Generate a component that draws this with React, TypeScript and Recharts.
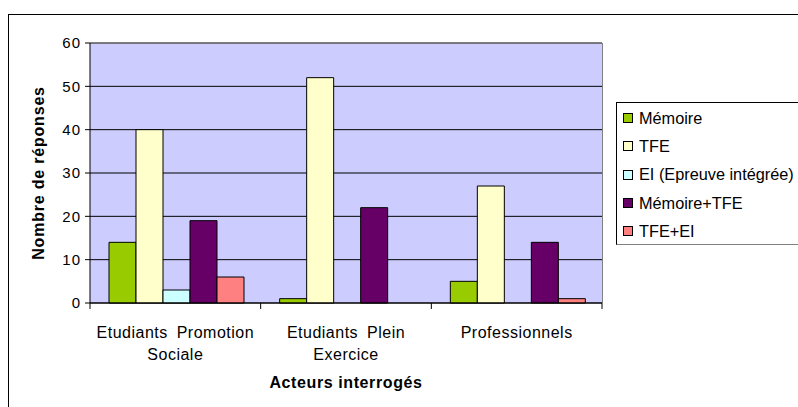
import React from 'react';
import {
  BarChart, Bar, XAxis, YAxis, CartesianGrid, ReferenceLine
} from 'recharts';

const categories = ['Etudiants Promotion Sociale', 'Etudiants Plein Exercice', 'Professionnels'];
const memoire = [14, 1, 5];
const tfe = [40, 52, 27];
const ei = [3, 0, 0];
const memoireTfe = [19, 22, 14];
const tfeEi = [6, 0, 1];
const yTicks = [0, 10, 20, 30, 40, 50, 60];

const SERIES = [
  { key: 'memoire', name: 'Mémoire', color: '#99CC00', values: memoire },
  { key: 'tfe', name: 'TFE', color: '#FFFFCC', values: tfe },
  { key: 'ei', name: 'EI (Epreuve intégrée)', color: '#CCFFFF', values: ei },
  { key: 'memoireTfe', name: 'Mémoire+TFE', color: '#660066', values: memoireTfe },
  { key: 'tfeEi', name: 'TFE+EI', color: '#FF8080', values: tfeEi },
];

const data = categories.map((cat, i) => {
  const row: Record<string, any> = { name: cat };
  SERIES.forEach(s => { row[s.key] = s.values[i]; });
  return row;
});

const FONT = 'Arial, "Liberation Sans", sans-serif';
const PLOT_LEFT = 90;
const PLOT_RIGHT = 602;
const BAND = (PLOT_RIGHT - PLOT_LEFT) / categories.length;

// split long category names onto two lines like Excel does
const CategoryTick = (props: any) => {
  const { x, y, payload, index } = props;
  const words = String(payload.value).split(' ');
  const lines = words.length > 2
    ? [words.slice(0, 2).join(' '), words.slice(2).join(' ')]
    : [words.join(' ')];
  return (
    <g>
      <line x1={x - BAND / 2} y1={y - 8} x2={x - BAND / 2} y2={y - 2} stroke="#000" />
      {index === categories.length - 1 && (
        <line x1={x + BAND / 2} y1={y - 8} x2={x + BAND / 2} y2={y - 2} stroke="#000" />
      )}
      {lines.map((l, i) => (
        <text key={i} x={x} y={y + 27 + i * 22} textAnchor="middle"
          fontFamily={FONT} fontSize={16} fill="#000" wordSpacing={4} letterSpacing={0.5}>
          {l}
        </text>
      ))}
    </g>
  );
};

const LegendBox = () => (
  <div style={{
    position: 'absolute', left: 616, top: 102,
    border: '1px solid #000', borderBottomColor: '#808080', background: '#fff',
    width: 200, height: 143, boxSizing: 'border-box', paddingTop: 1, fontFamily: FONT,
  }}>
    {SERIES.map(s => (
      <div key={s.key} style={{ display: 'flex', alignItems: 'center', height: 28.3, paddingLeft: 6 }}>
        <span style={{
          width: 8, height: 8, background: s.color, border: '1px solid #000', marginRight: 6, flexShrink: 0,
        }} />
        <span style={{ fontSize: 16.3, color: '#000', whiteSpace: 'nowrap' }}>{s.name}</span>
      </div>
    ))}
  </div>
);

export default function App() {
  return (
    <div style={{ position: 'fixed', left: 0, top: 0, width: 798, height: 407, background: '#fff', overflow: 'hidden' }}>
      <div style={{
        position: 'absolute', left: 8, top: 14, width: 820, height: 420, border: '1px solid #000',
      }} />
      <div style={{ position: 'absolute', left: 0, top: 0 }}>
        <BarChart
          width={798}
          height={407}
          data={data}
          margin={{ top: 43, right: 196, left: 30, bottom: 44 }}
          barCategoryGap={19}
          barGap={0}
        >
          <CartesianGrid fill="#CCCCFF" stroke="#000" vertical={false} />
          <XAxis
            dataKey="name"
            axisLine={{ stroke: '#000' }}
            tickLine={false}
            tick={<CategoryTick />}
            height={60}
            interval={0}
            label={{ value: 'Acteurs interrogés', position: 'insideBottom', offset: -25, fontFamily: FONT, fontSize: 16, fontWeight: 'bold', fill: '#000', letterSpacing: 0.6 }}
          />
          <YAxis
            domain={[0, 60]}
            ticks={yTicks}
            interval={0}
            width={60}
            axisLine={{ stroke: '#000' }}
            tickLine={{ stroke: '#000' }}
            tickSize={5}
            tick={{ fontFamily: FONT, fontSize: 15, fill: '#000', letterSpacing: 1, dx: -2 }}
            label={{ value: 'Nombre de réponses', angle: -90, position: 'insideLeft', offset: 8, style: { textAnchor: 'middle' }, fontFamily: FONT, fontSize: 16, fontWeight: 'bold', fill: '#000', letterSpacing: 0.8 }}
          />
          <ReferenceLine y={60} stroke="#808080" />
          {SERIES.map(s => (
            <Bar key={s.key} dataKey={s.key} name={s.name} fill={s.color}
              stroke="#000" strokeWidth={1} isAnimationActive={false} />
          ))}
        </BarChart>
      </div>
      <div style={{ position: 'absolute', left: PLOT_RIGHT, top: 43, width: 1, height: 260, background: '#808080' }} />
      <LegendBox />
    </div>
  );
}
